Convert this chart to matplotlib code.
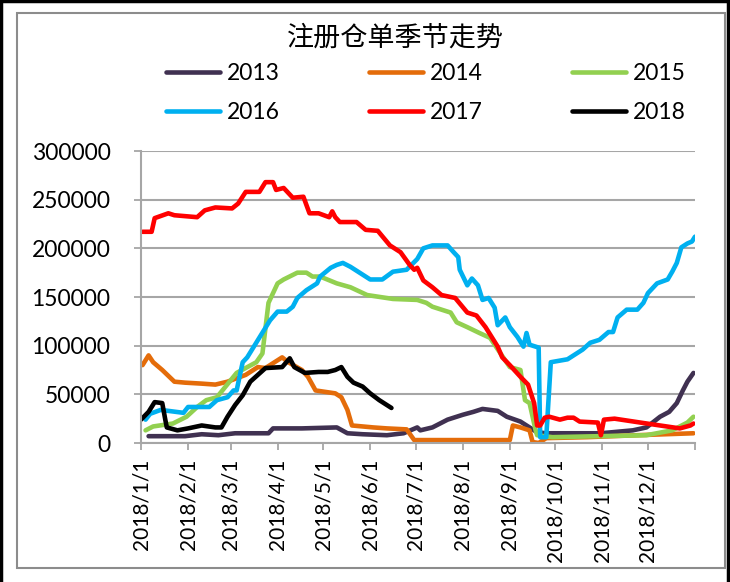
import numpy as np
import pandas as pd
import matplotlib
matplotlib.use("Agg")
import matplotlib.pyplot as plt
from matplotlib.lines import Line2D
from matplotlib.patches import Rectangle

# days are counted from 2018-01-01, values in tonnes
d2013 = [5, 29, 40, 51, 62, 84, 87, 106, 129, 136, 146, 162, 173, 182, 184, 192, 202, 212, 219, 225,
         235, 241, 250, 254, 261, 267, 303, 324, 333, 342, 348, 353, 357, 360, 364]
v2013 = [7, 7, 9, 8, 10, 10, 15, 15, 16, 10, 9, 8, 10, 16, 13, 16, 24, 29, 32, 35,
         33, 27, 22, 18, 11, 10, 10, 13, 16, 27, 32, 41, 54, 63, 72]

d2014 = [1, 5, 8, 14, 22, 29, 40, 49, 57, 69, 77, 82, 88, 93, 97, 106, 110, 115, 128, 132,
         136, 139, 153, 162, 175, 180, 243, 245, 250, 256, 258, 262, 267, 294, 327, 364]
v2014 = [80, 90, 83, 75, 63, 62, 61, 60, 63, 70, 78, 77, 83, 88, 83, 75, 68, 54, 51, 47,
         34, 18, 16, 15, 14, 3, 3, 18, 16, 13, 1, 0, 5, 6, 8, 10]

d2015 = [3, 8, 21, 30, 37, 43, 50, 63, 76, 80, 84, 90, 94, 103, 109, 113, 118, 129, 138, 149,
         166, 182, 188, 192, 204, 208, 215, 223, 230, 236, 243, 250, 253, 256, 260, 261, 271, 302,
         333, 350, 360, 364]
v2015 = [13, 17, 20, 27, 37, 44, 47, 72, 83, 92, 144, 164, 168, 175, 175, 171, 171, 164, 160, 152,
         148, 147, 144, 140, 134, 124, 119, 113, 108, 94, 78, 75, 44, 41, 13, 8, 6, 7,
         8, 13, 21, 27]

d2016 = [3, 6, 13, 28, 31, 45, 50, 57, 61, 63, 67, 70, 85, 90, 96, 100, 103, 109, 116, 118,
         125, 129, 133, 138, 144, 151, 159, 166, 175, 182, 186, 192, 202, 206, 209, 210, 215, 218,
         222, 225, 229, 233, 235, 240, 243, 248, 252, 254, 256, 262, 263, 267, 270, 281, 287, 291,
         296, 302, 308, 311, 314, 320, 327, 331, 334, 340, 347, 350, 353, 356, 360, 363, 365]
v2016 = [24, 30, 34, 31, 37, 37, 44, 47, 54, 54, 83, 88, 126, 135, 135, 140, 149, 157, 164, 171,
         180, 183, 185, 181, 175, 168, 168, 176, 178, 189, 200, 203, 203, 196, 191, 178, 162, 169,
         162, 147, 149, 139, 121, 129, 119, 109, 99, 113, 101, 98, 6, 6, 83, 86, 92, 96,
         103, 106, 114, 114, 129, 137, 137, 144, 154, 164, 168, 176, 185, 201, 205, 207, 212]

d2017 = [1, 7, 9, 18, 22, 37, 42, 49, 60, 64, 69, 78, 82, 87, 89, 94, 100, 107, 111, 117,
         124, 126, 128, 131, 142, 148, 156, 164, 171, 177, 180, 182, 186, 192, 198, 207, 215, 221,
         227, 235, 238, 243, 250, 255, 259, 261, 263, 266, 269, 276, 281, 285, 289, 301, 303, 305,
         312, 329, 342, 355, 362, 364]
v2017 = [217, 217, 231, 236, 234, 232, 239, 242, 241, 246, 258, 258, 268, 268, 260, 262, 252, 253, 236, 236,
         232, 238, 232, 227, 227, 219, 218, 203, 196, 183, 178, 180, 167, 160, 152, 149, 134, 131,
         119, 99, 88, 80, 68, 60, 41, 18, 18, 26, 27, 24, 26, 26, 22, 21, 8, 24,
         25, 21, 18, 15, 18, 20]

d2018 = [0, 5, 9, 14, 16, 17, 24, 31, 40, 49, 53, 57, 62, 67, 72, 77, 82, 93, 98, 101,
         108, 117, 123, 128, 132, 136, 140, 146, 151, 157, 165]
v2018 = [24, 32, 42, 41, 24, 16, 13, 15, 18, 16, 16, 27, 39, 49, 63, 70, 77, 78, 87, 78,
         72, 73, 73, 75, 78, 68, 62, 58, 51, 44, 36]

years = ["2013", "2014", "2015", "2016", "2017", "2018"]
days = [d2013, d2014, d2015, d2016, d2017, d2018]
vals = [v2013, v2014, v2015, v2016, v2017, v2018]
colors = ["#403151", "#E46C0A", "#92D050", "#00B0F0", "#FF0000", "#000000"]

start = pd.Timestamp("2018-01-01")
month_ticks = pd.date_range("2018-01-01", "2018-12-01", freq="MS")
tick_labels = [f"{t.year}/{t.month}/1" for t in month_ticks]

W, H = 730, 582
fig = plt.figure(figsize=(W / 100, H / 100), dpi=100)
ax = fig.add_axes([141 / W, 1 - 443 / H, 554 / W, 292 / H])

lines = []
for y, d, v, c in zip(years, days, vals, colors):
    x = start + pd.to_timedelta(d, unit="D")
    ln, = ax.plot(x, np.array(v) * 1000, color=c, lw=3.3, label=y,
                  solid_capstyle="round", solid_joinstyle="round")
    lines.append(ln)

grid_c = "#a6a6a6"
ax.set_xlim(start, pd.Timestamp("2019-01-01"))
ax.set_ylim(0, 300000)
ax.set_yticks(range(0, 300001, 50000))
ax.set_yticklabels([str(v) for v in range(0, 300001, 50000)], fontfamily="Lato", fontsize=16.5)
ax.yaxis.grid(True, color=grid_c, lw=1.5)
ax.set_axisbelow(True)

ax.set_xticks(list(month_ticks) + [pd.Timestamp("2019-01-01")])
ax.set_xticklabels(tick_labels + [""], rotation=90, fontfamily="Lato", fontsize=15)
ax.tick_params(axis="x", length=5, width=1.3, color=grid_c, pad=6)
ax.tick_params(axis="y", length=5, width=1.3, color=grid_c, pad=17)

for s in ["top", "right"]:
    ax.spines[s].set_visible(False)
for s in ["left", "bottom"]:
    ax.spines[s].set_color(grid_c)
    ax.spines[s].set_linewidth(1.5)

fig.text(395 / W, 1 - 38 / H, "注册仓单季节走势", ha="center", va="center",
         fontsize=19.5, family=["Noto Sans CJK SC", "DejaVu Sans"])

# legend is filled column by column, so reorder to read row by row
order = [0, 3, 1, 4, 2, 5]
fig.legend(handles=[lines[i] for i in order], ncol=3, loc="center",
           bbox_to_anchor=(426 / W, 1 - 93 / H),
           frameon=False, prop={"family": "Lato", "size": 16.5}, handlelength=2.36,
           handletextpad=0.3, columnspacing=3.9, labelspacing=0.75, borderpad=0,
           borderaxespad=0)

# chart area frame and outer border
fig.patches.append(Rectangle((17 / W, 1 - 568 / H), 708 / W, 555 / H, transform=fig.transFigure,
                             fill=False, ec="#8c8c8c", lw=1.5))
for xs, ys in [([1.5 / W, 1.5 / W], [0, 1]), ([0, 1], [1 - 1 / H, 1 - 1 / H]),
               ([1 - 2 / W, 1 - 2 / W], [0, 1])]:
    fig.add_artist(Line2D(xs, ys, transform=fig.transFigure, color="black", lw=2.5))

fig.savefig("out.png", dpi=100)
